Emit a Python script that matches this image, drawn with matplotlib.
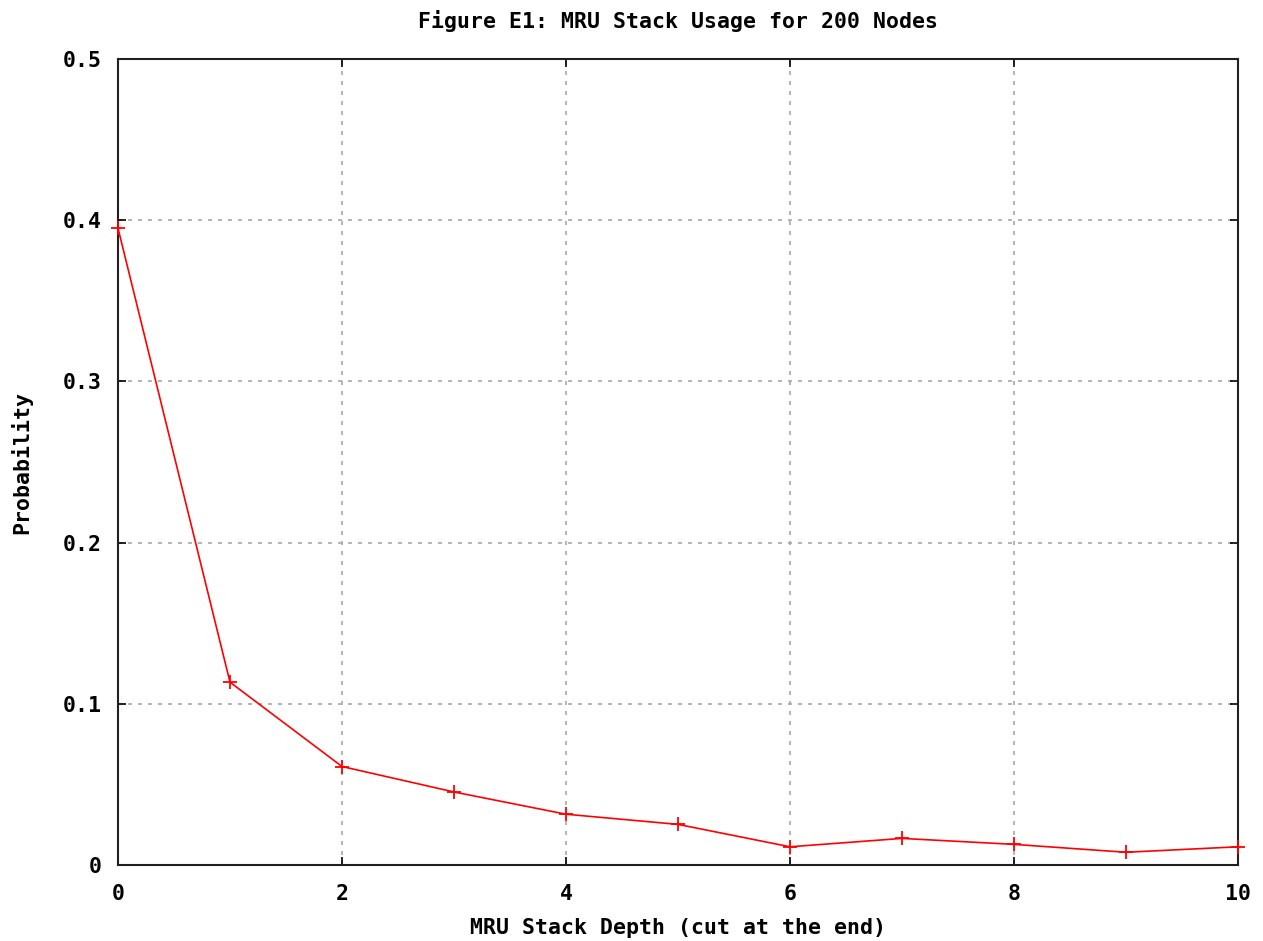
import matplotlib
matplotlib.use("Agg")
import matplotlib.pyplot as plt

# MRU stack depth vs. probability
depth = [0, 1, 2, 3, 4, 5, 6, 7, 8, 9, 10]
probability = [0.395, 0.1134, 0.0611, 0.0453, 0.0315, 0.0252,
               0.0113, 0.0165, 0.0128, 0.0079, 0.0113]

xticks = [0, 2, 4, 6, 8, 10]
yticks = [0, 0.1, 0.2, 0.3, 0.4, 0.5]
ytick_labels = ["0", "0.1", "0.2", "0.3", "0.4", "0.5"]

plt.rcParams['font.family'] = ['DejaVu Sans Mono']
plt.rcParams['font.weight'] = 'bold'
fs = 15.5

fig = plt.figure(figsize=(12.63, 9.41), dpi=100)
ax = fig.add_axes([118/1263, 76/941, 1120/1263, 806/941])

ax.plot(depth, probability, color='#ff0000', lw=1.2, marker='+',
        markersize=10, markeredgewidth=1.3, clip_on=False, zorder=3)

ax.set_xlim(0, 10)
ax.set_ylim(0, 0.5)
ax.set_xticks(xticks)
ax.set_yticks(yticks)
ax.set_yticklabels(ytick_labels)
ax.tick_params(direction='in', length=6, width=1.2, top=True, right=True,
               labelsize=fs)
ax.tick_params(axis='x', pad=14)
ax.tick_params(axis='y', pad=12)
ax.grid(True, color='#a8a8a8', linestyle=(0, (2.4, 3.6)), lw=1.2)
for s in ax.spines.values():
    s.set_linewidth(1.5)
    s.set_color('#202020')

ax.set_title("Figure E1: MRU Stack Usage for 200 Nodes", fontsize=fs,
             fontweight='bold', pad=22)
ax.set_xlabel("MRU Stack Depth (cut at the end)", fontsize=fs,
              fontweight='bold')
ax.xaxis.set_label_coords(0.5, -0.066)
ax.set_ylabel("Probability", fontsize=fs, fontweight='bold')
ax.yaxis.set_label_coords(-0.077, 0.5)

fig.savefig("out.png", dpi=100)
